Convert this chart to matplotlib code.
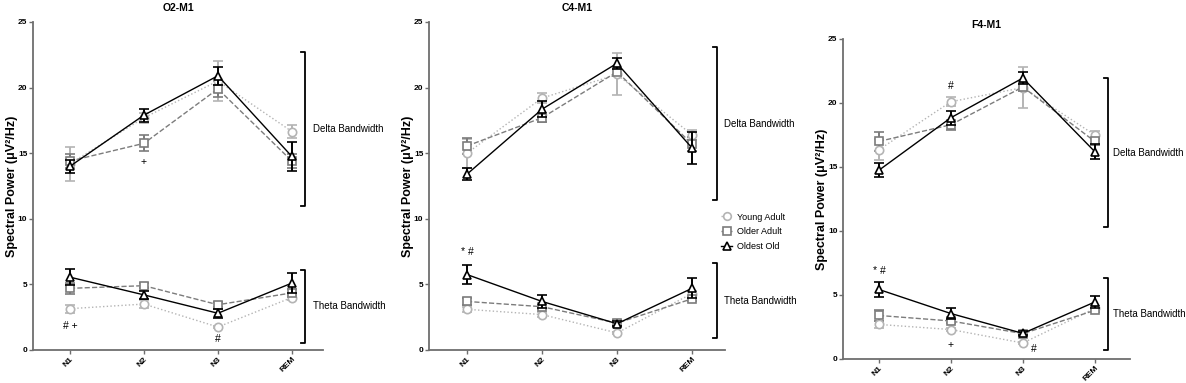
import matplotlib
matplotlib.use("Agg")
import matplotlib.pyplot as plt
from matplotlib.lines import Line2D

plt.rcParams['font.family'] = ['Liberation Sans', 'DejaVu Sans']

stages = ["N1", "N2", "N3", "REM"]
groups = ["Young Adult", "Older Adult", "Oldest Old"]

# O2-M1
o2_delta_mean = {"Young Adult": [14.2, 17.7, 20.5, 16.65],
                 "Older Adult": [14.4, 15.75, 19.9, 14.4],
                 "Oldest Old": [14.0, 17.9, 20.9, 14.75]}
o2_delta_err = {"Young Adult": [1.3, 0.4, 1.5, 0.5],
                "Older Adult": [0.5, 0.6, 0.6, 0.5],
                "Oldest Old": [0.5, 0.5, 0.7, 1.1]}
o2_theta_mean = {"Young Adult": [3.15, 3.5, 1.75, 4.0],
                 "Older Adult": [4.7, 4.9, 3.45, 4.35],
                 "Oldest Old": [5.55, 4.2, 2.8, 5.1]}
o2_theta_err = {"Young Adult": [0.3, 0.3, 0.1, 0.2],
                "Older Adult": [0.4, 0.2, 0.2, 0.3],
                "Oldest Old": [0.6, 0.3, 0.35, 0.75]}

# C4-M1
c4_delta_mean = {"Young Adult": [15.0, 19.2, 21.0, 16.4],
                 "Older Adult": [15.55, 17.7, 21.2, 15.7],
                 "Oldest Old": [13.4, 18.35, 21.85, 15.4]}
c4_delta_err = {"Young Adult": [1.1, 0.4, 1.6, 0.4],
                "Older Adult": [0.6, 0.35, 0.3, 0.5],
                "Oldest Old": [0.45, 0.6, 0.4, 1.2]}
c4_theta_mean = {"Young Adult": [3.1, 2.7, 1.3, 4.3],
                 "Older Adult": [3.7, 3.3, 2.05, 3.9],
                 "Oldest Old": [5.75, 3.7, 2.0, 4.7]}
c4_theta_err = {"Young Adult": [0.2, 0.2, 0.1, 0.2],
                "Older Adult": [0.3, 0.2, 0.2, 0.2],
                "Oldest Old": [0.7, 0.5, 0.2, 0.75]}

# F4-M1
f4_delta_mean = {"Young Adult": [16.35, 20.1, 21.2, 17.5],
                 "Older Adult": [17.0, 18.3, 21.25, 17.0],
                 "Oldest Old": [14.75, 18.85, 21.95, 16.2]}
f4_delta_err = {"Young Adult": [0.8, 0.35, 1.6, 0.35],
                "Older Adult": [0.75, 0.4, 0.3, 0.3],
                "Oldest Old": [0.55, 0.55, 0.45, 0.6]}
f4_theta_mean = {"Young Adult": [2.7, 2.3, 1.25, 3.95],
                 "Older Adult": [3.4, 2.97, 1.98, 3.8],
                 "Oldest Old": [5.43, 3.55, 2.0, 4.45]}
f4_theta_err = {"Young Adult": [0.3, 0.15, 0.1, 0.15],
                "Older Adult": [0.4, 0.15, 0.15, 0.15],
                "Oldest Old": [0.6, 0.45, 0.15, 0.45]}

panels = [
    dict(title="O2-M1", dm=o2_delta_mean, de=o2_delta_err, tm=o2_theta_mean, te=o2_theta_err,
         pos=[0.0278, 0.0862, 0.2445, 0.8564], xlim=(-0.5, 3.42),
         bx=3.18, tx=3.29, db=(11.0, 22.7), tb=(0.55, 6.1),
         ann=[(1, 14.3, "+"), (0, 1.85, "# +"), (2, 0.8, "#")]),
    dict(title="C4-M1", dm=c4_delta_mean, de=c4_delta_err, tm=c4_theta_mean, te=c4_theta_err,
         pos=[0.3617, 0.0862, 0.2496, 0.8564], xlim=(-0.507, 3.44),
         bx=3.33, tx=3.43, db=(11.4, 23.1), tb=(0.9, 6.6),
         ann=[(0, 7.45, "* #")]),
    dict(title="F4-M1", dm=f4_delta_mean, de=f4_delta_err, tm=f4_theta_mean, te=f4_theta_err,
         pos=[0.7108, 0.0627, 0.2420, 0.8355], xlim=(-0.5, 3.49),
         bx=3.18, tx=3.25, db=(10.3, 21.95), tb=(0.7, 6.3),
         ann=[(1, 21.3, "#"), (0, 6.9, "* #"), (1, 1.1, "+"), (2.15, 0.8, "#")]),
]

styles = {
    "Young Adult": dict(color="#b4b4b4", ls=":", marker="o"),
    "Older Adult": dict(color="#7c7c7c", ls="--", marker="s"),
    "Oldest Old": dict(color="#000000", ls="-", marker="^"),
}

fig = plt.figure(figsize=(11.86, 3.83), dpi=100)
x = list(range(len(stages)))

for k, p in enumerate(panels):
    ax = fig.add_axes(p["pos"])
    for g in groups:
        st = styles[g]
        for mean, err in ((p["dm"][g], p["de"][g]), (p["tm"][g], p["te"][g])):
            ax.errorbar(x, mean, yerr=err, color=st["color"], ls=st["ls"], lw=1.0,
                        marker=st["marker"], ms=6, mfc="white", mec=st["color"], mew=1.2,
                        capsize=3.8, elinewidth=1.4, capthick=1.4,
                        zorder=3 if g == "Oldest Old" else 2)
    ax.set_xlim(*p["xlim"])
    ax.set_ylim(0, 25)
    ax.set_yticks([0, 5, 10, 15, 20, 25])
    ax.set_xticks(x)
    ax.set_xticklabels(stages, rotation=45, ha="right", rotation_mode="anchor",
                       fontsize=6, fontweight="bold")
    for lab in ax.get_yticklabels():
        lab.set_fontsize(6)
        lab.set_fontweight("bold")
    for s in ("top", "right"):
        ax.spines[s].set_visible(False)
    for s in ("left", "bottom"):
        ax.spines[s].set_color("#6e6e6e")
        ax.spines[s].set_linewidth(1.3)
    ax.tick_params(axis="both", direction="out", length=3, width=1, color="#6e6e6e", pad=1)
    ax.set_title(p["title"], fontsize=7.5, fontweight="bold", pad=8)
    ax.set_ylabel("Spectral Power (μV²/Hz)", fontsize=9, fontweight="bold", labelpad=0)

    # brackets
    for (lo, hi), lab in ((p["db"], "Delta Bandwidth"), (p["tb"], "Theta Bandwidth")):
        bx = p["bx"]
        ax.plot([bx - 0.05, bx, bx, bx - 0.05], [lo, lo, hi, hi], color="black", lw=1.3,
                clip_on=False)
        ax.text(p["tx"], (lo + hi) / 2, lab, fontsize=7, va="center", ha="left")

    for (xa, ya, t) in p["ann"]:
        ax.text(xa, ya, t, fontsize=7.5, ha="center", va="center")

    if k == 1:
        handles = [Line2D([0], [0], color=styles[g]["color"], ls=styles[g]["ls"],
                          marker=styles[g]["marker"], ms=5.5, mfc="white",
                          mec=styles[g]["color"], mew=1.2, lw=1.0) for g in groups]
        ax.legend(handles, groups, loc="upper left", bbox_to_anchor=(0.975, 0.43),
                  frameon=False, fontsize=6.5, handlelength=1.2, handletextpad=0.6,
                  labelspacing=0.65, borderaxespad=0)

fig.savefig("out.png", dpi=100)
